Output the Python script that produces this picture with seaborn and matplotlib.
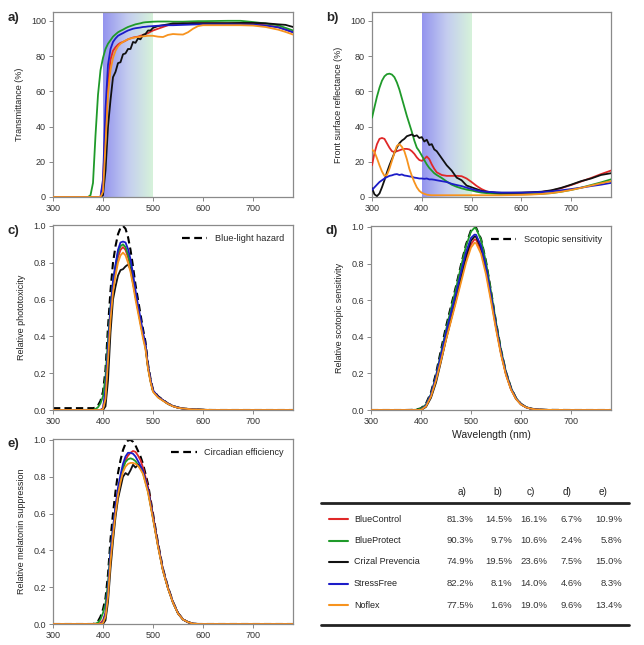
# Spectral performance of five blue-filtering lenses: panels a-e + summary table
import numpy as np
import pandas as pd
import matplotlib
matplotlib.use("Agg")
import matplotlib.pyplot as plt
from matplotlib.colors import LinearSegmentedColormap
import seaborn as sns

# ===================== data =====================
lenses = ["BlueControl", "BlueProtect", "Crizal Prevencia", "StressFree", "Noflex"]
lens_colors = ["#e02828", "#1f9a2a", "#111111", "#1c1cc8", "#f7931e"]

# a) transmittance (%)
wl_a = [300, 370, 375, 380, 385, 390, 395, 400, 405, 410, 415, 420, 425, 430, 435, 440,
        445, 450, 455, 460, 465, 470, 475, 480, 485, 490, 495, 500, 510, 520, 530, 540,
        550, 560, 570, 580, 590, 600, 625, 650, 675, 700, 725, 750, 765, 780]
trans_red = [0, 0, 0, 0, 0, 0, 0, 8, 40, 65, 78, 83, 85, 86.5, 87.5, 88, 88.7, 89.5, 90, 90.5,
             90.8, 91, 91.5, 92, 92.5, 93, 93.8, 94.5, 95.5, 96.5, 97.5, 98, 98.2, 98.3, 98.4,
             98.5, 98.5, 98.5, 98.5, 98.5, 98.5, 98.2, 97.5, 96.5, 95, 93.5]
trans_green = [0, 0, 1, 8, 35, 58, 72, 79, 84, 87, 89, 91, 92.3, 93.5, 94.3, 95, 95.8, 96.5,
               97, 97.5, 98, 98.3, 98.6, 99, 99.2, 99.3, 99.4, 99.5, 99.6, 99.6, 99.6, 99.5,
               99.5, 99.5, 99.6, 99.7, 99.8, 99.8, 99.9, 100, 100, 99.3, 98.5, 97.5, 96, 94.5]
trans_black = [0, 0, 0, 0, 0, 0, 0, 1, 15, 40, 55, 68, 71, 76, 76.5, 81, 81.5, 84, 84, 88,
               87.5, 90, 89.5, 92, 92.5, 94.5, 94.5, 96, 97, 97.5, 98, 98.5, 98.5, 98.6, 98.6,
               98.7, 98.7, 98.7, 98.7, 98.7, 98.8, 98.8, 98.6, 98, 97.7, 96.5]
trans_blue = [0, 0, 0, 0, 0, 0, 0, 10, 50, 75, 84, 88, 90, 91.5, 92.3, 93, 93.8, 94.5, 95,
              95.5, 95.8, 96, 96.2, 96.5, 96.6, 96.8, 96.9, 97, 97.2, 97.4, 97.5, 97.5, 97.6,
              97.7, 97.8, 97.9, 98, 98, 98, 98, 97.9, 97.8, 97.3, 96.3, 95, 93.5]
trans_orange = [0, 0, 0, 0, 0, 0, 0, 3, 30, 58, 72, 79, 83, 85.5, 87, 88, 88.8, 89.5, 90,
                90.3, 90.6, 90.8, 91, 91.2, 91.3, 91.5, 91.5, 91.5, 91, 90.8, 92, 92.5, 92.3,
                92.2, 93.5, 95.5, 97, 97.5, 97.5, 97.5, 97.5, 97.3, 96.5, 95, 93.7, 92.2]

# b) front surface reflectance (%)
wl_b = [300, 305, 310, 315, 320, 325, 330, 335, 340, 345, 350, 355, 360, 365, 370, 375, 380,
        385, 390, 395, 400, 405, 410, 415, 420, 425, 430, 440, 450, 460, 470, 480, 490, 500,
        510, 520, 530, 540, 550, 560, 580, 600, 620, 640, 660, 680, 700, 720, 740, 760, 780]
refl_red = [18, 25, 30, 33, 33.5, 33, 30.5, 28, 26, 25.5, 26, 26.5, 27, 27.3, 27.3, 27, 26,
            24.5, 22.5, 21, 20.5, 21.5, 23, 21.5, 18.5, 16, 14, 12.5, 12, 12, 12, 11.8, 10.5,
            8.5, 6.3, 4.5, 3.2, 2.6, 2.3, 2.2, 2.2, 2.3, 2.5, 2.8, 3.6, 5, 6.8, 8.8, 10.8, 13, 15]
refl_green = [45, 51, 57, 62, 66, 68.5, 69.7, 70, 69.5, 68, 65, 61, 56, 51, 46, 41.5, 37, 32,
              28, 26, 23.5, 21, 18.5, 16.5, 15, 13.5, 12.5, 10.8, 8.8, 7, 5.8, 4.9, 4.2, 3.7,
              3, 2.5, 2.2, 2, 1.8, 1.6, 1.5, 1.5, 1.6, 1.8, 2.2, 3, 4, 5.3, 6.8, 8.3, 10]
refl_black = [5, 1.5, 0.5, 2, 5.5, 9.5, 14, 18, 21.5, 25, 28, 30.5, 32, 33, 34.5, 35, 35.5,
              34.5, 35, 33.5, 34, 31.5, 32.5, 29.5, 30, 27, 26, 22, 18, 15, 11, 9.5, 6.5, 5.5,
              4.5, 3.5, 3, 2.7, 2.5, 2.4, 2.4, 2.5, 2.7, 3, 3.8, 5.2, 7, 9, 10.5, 12.5, 13.5]
refl_blue = [4, 5.5, 7, 8.5, 9.5, 10.5, 11.3, 12, 12.3, 12.8, 13, 12.5, 12.8, 12.2, 12, 11.7,
             11.5, 11, 10.8, 10.5, 10.5, 10.3, 10.5, 10, 10, 9.8, 9.5, 9, 8.5, 7.5, 6.8, 6.2,
             5.3, 4.5, 3.8, 3.2, 3, 2.8, 2.6, 2.5, 2.5, 2.5, 2.6, 2.8, 3.2, 3.8, 4.5, 5.3, 6.2, 7, 8]
refl_orange = [27, 25.5, 22, 18, 14.5, 12, 12.5, 16, 20.5, 25, 29, 30, 28.5, 26, 21.5, 16, 12,
               8.5, 5.5, 3.5, 2.4, 1.8, 1.3, 1.1, 1, 1, 1, 1, 1, 1, 1, 1, 1, 1, 1, 1, 1, 1, 1,
               1, 1.1, 1.2, 1.4, 1.7, 2.2, 3, 4, 5.2, 6.5, 7.8, 9]

# c) relative phototoxicity
wl_c = [300, 380, 385, 390, 395, 400, 405, 410, 415, 420, 425, 430, 435, 440, 445, 450, 455,
        460, 465, 470, 475, 480, 485, 490, 495, 500, 510, 520, 530, 540, 550, 560, 580, 600,
        620, 780]
hazard = [0.01, 0.01, 0.013, 0.025, 0.05, 0.10, 0.22, 0.45, 0.65, 0.80, 0.89, 0.955, 0.99, 1.0,
          0.985, 0.94, 0.87, 0.78, 0.68, 0.60, 0.52, 0.44, 0.37, 0.25, 0.17, 0.11, 0.075, 0.055,
          0.035, 0.022, 0.013, 0.008, 0.003, 0.001, 0, 0]
photo_red = [0, 0, 0, 0, 0, 0.008, 0.088, 0.29, 0.51, 0.66, 0.75, 0.83, 0.87, 0.885, 0.87,
             0.83, 0.78, 0.705, 0.62, 0.545, 0.475, 0.405, 0.34, 0.233, 0.16, 0.104, 0.071,
             0.053, 0.034, 0.021, 0.013, 0.008, 0.003, 0.001, 0, 0]
photo_green = [0, 0.001, 0.005, 0.015, 0.036, 0.075, 0.18, 0.38, 0.56, 0.70, 0.78, 0.855,
               0.89, 0.90, 0.885, 0.845, 0.79, 0.71, 0.62, 0.55, 0.475, 0.405, 0.34, 0.23,
               0.157, 0.102, 0.07, 0.052, 0.033, 0.021, 0.013, 0.008, 0.003, 0.001, 0, 0]
photo_black = [0, 0, 0, 0, 0, 0, 0.02, 0.16, 0.42, 0.6, 0.67, 0.73, 0.76, 0.765, 0.78, 0.79,
               0.765, 0.69, 0.62, 0.55, 0.48, 0.41, 0.35, 0.235, 0.162, 0.105, 0.072, 0.053,
               0.034, 0.021, 0.013, 0.008, 0.003, 0.001, 0, 0]
photo_blue = [0, 0, 0, 0, 0, 0.01, 0.11, 0.34, 0.55, 0.70, 0.79, 0.87, 0.91, 0.915, 0.91,
              0.875, 0.82, 0.74, 0.65, 0.57, 0.50, 0.42, 0.355, 0.24, 0.165, 0.107, 0.072,
              0.053, 0.034, 0.021, 0.013, 0.008, 0.003, 0.001, 0, 0]
photo_orange = [0, 0, 0, 0, 0, 0.005, 0.06, 0.27, 0.49, 0.64, 0.73, 0.80, 0.84, 0.855, 0.84,
                0.80, 0.75, 0.68, 0.60, 0.53, 0.46, 0.39, 0.33, 0.225, 0.152, 0.099, 0.068,
                0.05, 0.033, 0.02, 0.012, 0.008, 0.003, 0.001, 0, 0]

# d) relative scotopic sensitivity
wl_d = [300, 370, 380, 390, 400, 410, 420, 430, 440, 450, 460, 470, 480, 490, 500, 507, 510,
        520, 530, 540, 550, 560, 570, 580, 590, 600, 610, 620, 630, 640, 650, 700, 780]
scotopic = [0, 0, 0.0006, 0.0022, 0.0093, 0.0348, 0.0966, 0.1998, 0.3281, 0.455, 0.567, 0.676,
            0.793, 0.904, 0.982, 1.0, 0.997, 0.935, 0.811, 0.650, 0.481, 0.3288, 0.2076,
            0.1212, 0.0655, 0.0332, 0.0159, 0.0074, 0.0033, 0.0015, 0.0007, 0, 0]
scot_red = [0, 0, 0, 0, 0.001, 0.022, 0.076, 0.165, 0.275, 0.39, 0.495, 0.6, 0.71, 0.82, 0.905,
            0.932, 0.93, 0.873, 0.758, 0.608, 0.45, 0.308, 0.194, 0.113, 0.061, 0.031, 0.015,
            0.007, 0.003, 0.0014, 0.0006, 0, 0]
scot_green = [0, 0, 0.0001, 0.0013, 0.0074, 0.030, 0.087, 0.186, 0.312, 0.437, 0.553, 0.664,
              0.783, 0.895, 0.975, 0.995, 0.992, 0.931, 0.807, 0.647, 0.479, 0.327, 0.207,
              0.121, 0.065, 0.033, 0.016, 0.0074, 0.0033, 0.0015, 0.0007, 0, 0]
scot_black = [0, 0, 0, 0, 0, 0.017, 0.067, 0.15, 0.265, 0.385, 0.495, 0.605, 0.72, 0.84, 0.925,
              0.948, 0.946, 0.888, 0.771, 0.618, 0.457, 0.312, 0.197, 0.115, 0.062, 0.031,
              0.015, 0.007, 0.0032, 0.0014, 0.0006, 0, 0]
scot_blue = [0, 0, 0, 0, 0.001, 0.026, 0.085, 0.182, 0.302, 0.423, 0.53, 0.636, 0.751, 0.862,
             0.94, 0.958, 0.957, 0.898, 0.779, 0.625, 0.462, 0.316, 0.2, 0.117, 0.063, 0.032,
             0.015, 0.007, 0.0032, 0.0014, 0.0007, 0, 0]
scot_orange = [0, 0, 0, 0, 0.0005, 0.02, 0.074, 0.162, 0.27, 0.383, 0.485, 0.59, 0.697, 0.804,
               0.887, 0.913, 0.911, 0.853, 0.74, 0.594, 0.441, 0.302, 0.19, 0.111, 0.06, 0.03,
               0.0146, 0.0068, 0.003, 0.0014, 0.0006, 0, 0]

# e) relative melatonin suppression
wl_e = [300, 380, 385, 390, 395, 400, 405, 410, 415, 420, 425, 430, 435, 440, 445, 450, 455,
        460, 465, 470, 475, 480, 490, 500, 510, 520, 530, 540, 550, 560, 570, 580, 590, 780]
circadian = [0, 0, 0.005, 0.015, 0.04, 0.08, 0.14, 0.27, 0.46, 0.6, 0.72, 0.82, 0.89, 0.945,
             0.98, 0.997, 1.0, 0.99, 0.97, 0.94, 0.91, 0.87, 0.76, 0.6, 0.44, 0.3, 0.2, 0.12,
             0.06, 0.025, 0.01, 0.002, 0, 0]
mel_red = [0, 0, 0, 0.002, 0.006, 0.02, 0.06, 0.17, 0.36, 0.5, 0.62, 0.72, 0.79, 0.85, 0.89,
           0.915, 0.93, 0.94, 0.935, 0.915, 0.89, 0.85, 0.745, 0.59, 0.435, 0.295, 0.197, 0.118,
           0.059, 0.025, 0.01, 0.002, 0, 0]
mel_green = [0, 0, 0.002, 0.008, 0.025, 0.06, 0.11, 0.22, 0.4, 0.52, 0.63, 0.72, 0.79, 0.845,
             0.88, 0.895, 0.9, 0.895, 0.885, 0.865, 0.845, 0.82, 0.72, 0.575, 0.425, 0.29,
             0.194, 0.116, 0.058, 0.024, 0.01, 0.002, 0, 0]
mel_black = [0, 0, 0, 0, 0, 0, 0.02, 0.12, 0.3, 0.45, 0.58, 0.68, 0.74, 0.8, 0.82, 0.81, 0.835,
             0.865, 0.85, 0.865, 0.855, 0.83, 0.73, 0.58, 0.428, 0.292, 0.195, 0.117, 0.058,
             0.024, 0.01, 0.002, 0, 0]
mel_blue = [0, 0, 0, 0, 0, 0.01, 0.06, 0.19, 0.39, 0.52, 0.64, 0.74, 0.81, 0.87, 0.91, 0.93,
            0.93, 0.925, 0.91, 0.885, 0.86, 0.83, 0.73, 0.58, 0.428, 0.292, 0.195, 0.117, 0.058,
            0.024, 0.01, 0.002, 0, 0]
mel_orange = [0, 0, 0, 0, 0, 0.005, 0.04, 0.15, 0.34, 0.48, 0.6, 0.7, 0.77, 0.825, 0.855, 0.87,
              0.875, 0.875, 0.87, 0.86, 0.84, 0.815, 0.715, 0.57, 0.42, 0.287, 0.192, 0.115,
              0.057, 0.024, 0.01, 0.002, 0, 0]

# summary table
table_cols = ["a)", "b)", "c)", "d)", "e)"]
table_vals = [
    ["81.3%", "14.5%", "16.1%", "6.7%", "10.9%"],
    ["90.3%", "9.7%", "10.6%", "2.4%", "5.8%"],
    ["74.9%", "19.5%", "23.6%", "7.5%", "15.0%"],
    ["82.2%", "8.1%", "14.0%", "4.6%", "8.3%"],
    ["77.5%", "1.6%", "19.0%", "9.6%", "13.4%"],
]

# ===================== style =====================
sns.set_theme(style="white")
plt.rcParams['font.family'] = ['Liberation Sans', 'DejaVu Sans']
palette = dict(zip(lenses, lens_colors))
W, H = 644, 645

fig = plt.figure(figsize=(6.44, 6.45), dpi=100)


def make_ax(left, top, right, bottom):
    return fig.add_axes([left / W, 1 - bottom / H, (right - left) / W, (bottom - top) / H])


def draw_panel(ax, wl, series, ylim, yticks, yfmt, ylabel, ref=None, ref_label=None, shade=False):
    if shade:
        cmap = LinearSegmentedColormap.from_list("bg", ["#9494ee", "#c4cdf0", "#d6f2da"])
        ax.imshow(np.linspace(0, 1, 200)[None, :], cmap=cmap, aspect="auto",
                  extent=[400, 500, 0, ylim[1]], zorder=0, interpolation="bilinear")
    if ref is not None:
        sns.lineplot(x=wl, y=ref, color="black", lw=1.5, ax=ax, label=ref_label,
                     dashes=False, zorder=2)
        ax.lines[-1].set_dashes([3.5, 2])
    df = pd.DataFrame({
        "wl": np.tile(wl, len(lenses)),
        "val": np.concatenate(series),
        "lens": np.repeat(lenses, len(wl)),
    })
    sns.lineplot(data=df, x="wl", y="val", hue="lens", hue_order=lenses, palette=palette,
                 lw=1.3, ax=ax, legend=False, errorbar=None, zorder=3)
    ax.set_xlim(300, 780)
    ax.set_ylim(*ylim)
    ax.set_xticks([300, 400, 500, 600, 700])
    ax.set_yticks(yticks)
    ax.set_yticklabels([yfmt.format(v) for v in yticks])
    ax.set_xlabel("")
    ax.set_ylabel(ylabel, fontsize=6.5, color="#222222", labelpad=5)
    ax.tick_params(labelsize=6.5, length=3, width=0.7, color="#888888",
                   labelcolor="#333333", pad=2, bottom=True, left=True)
    for s in ax.spines.values():
        s.set_color("#8a8a8a")
        s.set_linewidth(0.9)
    if ref is not None:
        leg = ax.legend(frameon=False, loc="upper right", fontsize=6.6, handlelength=2.8,
                        borderaxespad=0.6)
        for h in leg.get_lines():
            h.set_linewidth(1.6)
            h.set_dashes([3.5, 2])


ax_a = make_ax(53, 12, 293, 197)
draw_panel(ax_a, wl_a, [trans_red, trans_green, trans_black, trans_blue, trans_orange],
           (0, 105), [0, 20, 40, 60, 80, 100], "{:.0f}", "Transmittance (%)", shade=True)

ax_b = make_ax(372, 12, 611, 197)
draw_panel(ax_b, wl_b, [refl_red, refl_green, refl_black, refl_blue, refl_orange],
           (0, 105), [0, 20, 40, 60, 80, 100], "{:.0f}", "Front surface reflectance (%)",
           shade=True)

ax_c = make_ax(53, 225, 293, 410)
draw_panel(ax_c, wl_c, [photo_red, photo_green, photo_black, photo_blue, photo_orange],
           (0, 1.005), [0, 0.2, 0.4, 0.6, 0.8, 1.0], "{:.1f}", "Relative phototoxicity",
           ref=hazard, ref_label="Blue-light hazard")

ax_d = make_ax(371, 226, 611, 410)
draw_panel(ax_d, wl_d, [scot_red, scot_green, scot_black, scot_blue, scot_orange],
           (0, 1.005), [0, 0.2, 0.4, 0.6, 0.8, 1.0], "{:.1f}", "Relative scotopic sensitivity",
           ref=scotopic, ref_label="Scotopic sensitivity")
ax_d.set_xlabel("Wavelength (nm)", fontsize=7.5, color="#222222", labelpad=3)

ax_e = make_ax(53, 439, 293, 624)
draw_panel(ax_e, wl_e, [mel_red, mel_green, mel_black, mel_blue, mel_orange],
           (0, 1.005), [0, 0.2, 0.4, 0.6, 0.8, 1.0], "{:.1f}", "Relative melatonin suppression",
           ref=circadian, ref_label="Circadian efficiency")

# panel letters
for (x, y), lab in zip([(8, 18), (326, 18), (8, 231), (326, 231), (8, 444)],
                       ["a)", "b)", "c)", "d)", "e)"]):
    fig.text(x / W, 1 - y / H, lab, fontsize=9.5, fontweight="bold", va="center", ha="left")

# ===================== table =====================
ax_t = fig.add_axes([0, 0, 1, 1], zorder=-1)
ax_t.set_xlim(0, W)
ax_t.set_ylim(H, 0)
ax_t.axis("off")

col_center = [462, 498, 531, 567, 603]
col_right = [474, 512, 547, 582, 622]
row_y = [519, 540.5, 562, 583.5, 605]
for cx, lab in zip(col_center, table_cols):
    ax_t.text(cx, 492, lab, fontsize=7.2, ha="center", va="center", color="#222222")
ax_t.plot([321, 629], [503, 503], color="#222222", lw=2)
ax_t.plot([321, 629], [625, 625], color="#222222", lw=2)
for y, name, col, vals in zip(row_y, lenses, lens_colors, table_vals):
    ax_t.plot([329, 348], [y, y], color=col, lw=1.5)
    ax_t.text(354, y, name, fontsize=6.5, ha="left", va="center", color="#222222")
    for rx, v in zip(col_right, vals):
        ax_t.text(rx, y, v, fontsize=6.8, ha="right", va="center", color="#333333")

fig.savefig("out.png", dpi=100)
